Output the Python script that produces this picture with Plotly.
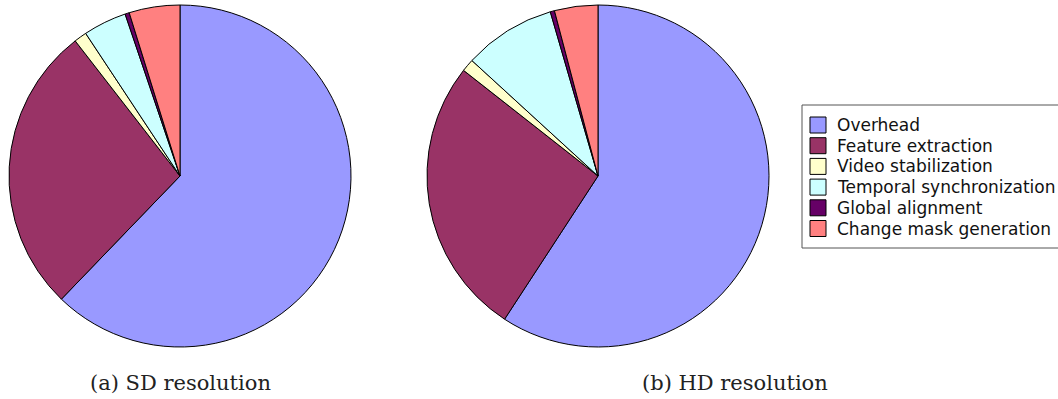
import plotly.graph_objects as go

# Share of processing time per stage (percent)
stages = ["Overhead", "Feature extraction", "Video stabilization",
          "Temporal synchronization", "Global alignment", "Change mask generation"]
sd_share = [62.2, 27.3, 1.2, 4.1, 0.4, 4.8]
hd_share = [59.2, 26.4, 1.2, 8.7, 0.4, 4.1]
stage_colors = ["#9999ff", "#993366", "#ffffcc", "#ccffff", "#660066", "#ff8080"]
captions = ["(a) SD resolution", "(b) HD resolution"]

W, H = 1058, 399


def px_x(x):
    return x / W


def px_y(y):
    return 1 - y / H


fig = go.Figure()
for share, (x0, x1) in [(sd_share, (9, 351)), (hd_share, (427, 769))]:
    fig.add_trace(go.Pie(
        labels=stages, values=share, sort=False, direction="clockwise", rotation=0,
        textinfo="none", hoverinfo="label+percent", showlegend=False,
        marker=dict(colors=stage_colors, line=dict(color="black", width=1)),
        domain=dict(x=[px_x(x0), px_x(x1)], y=[px_y(347), px_y(5)]),
    ))

# Sub-figure captions
for text, cx in zip(captions, [180, 735]):
    fig.add_annotation(text=text, x=px_x(cx), y=px_y(383), xref="paper", yref="paper",
                       showarrow=False, xanchor="center", yanchor="middle",
                       font=dict(family="DejaVu Serif", size=21, color="#222"))

# Shared legend box with one swatch per stage
shapes = [dict(type="rect", xref="paper", yref="paper",
               x0=px_x(802), x1=px_x(1062), y0=px_y(248), y1=px_y(105),
               line=dict(color="#555", width=1), fillcolor="white", layer="above")]
row0, row_step = 125, 20.7
for i, (name, color) in enumerate(zip(stages, stage_colors)):
    cy = row0 + i * row_step
    shapes.append(dict(type="rect", xref="paper", yref="paper",
                       x0=px_x(810), x1=px_x(826), y0=px_y(cy + 8), y1=px_y(cy - 8),
                       line=dict(color="black", width=1), fillcolor=color, layer="above"))
    fig.add_annotation(text=name, x=px_x(835), y=px_y(cy), xref="paper", yref="paper",
                       showarrow=False, xanchor="left", yanchor="middle",
                       font=dict(family="DejaVu Sans", size=17, color="#111"))

fig.update_layout(
    width=W, height=H, margin=dict(l=0, r=0, t=0, b=0),
    paper_bgcolor="white", plot_bgcolor="white",
    font=dict(family="DejaVu Sans", color="#111"),
    shapes=shapes, showlegend=False,
)

fig.write_html("out.html")
